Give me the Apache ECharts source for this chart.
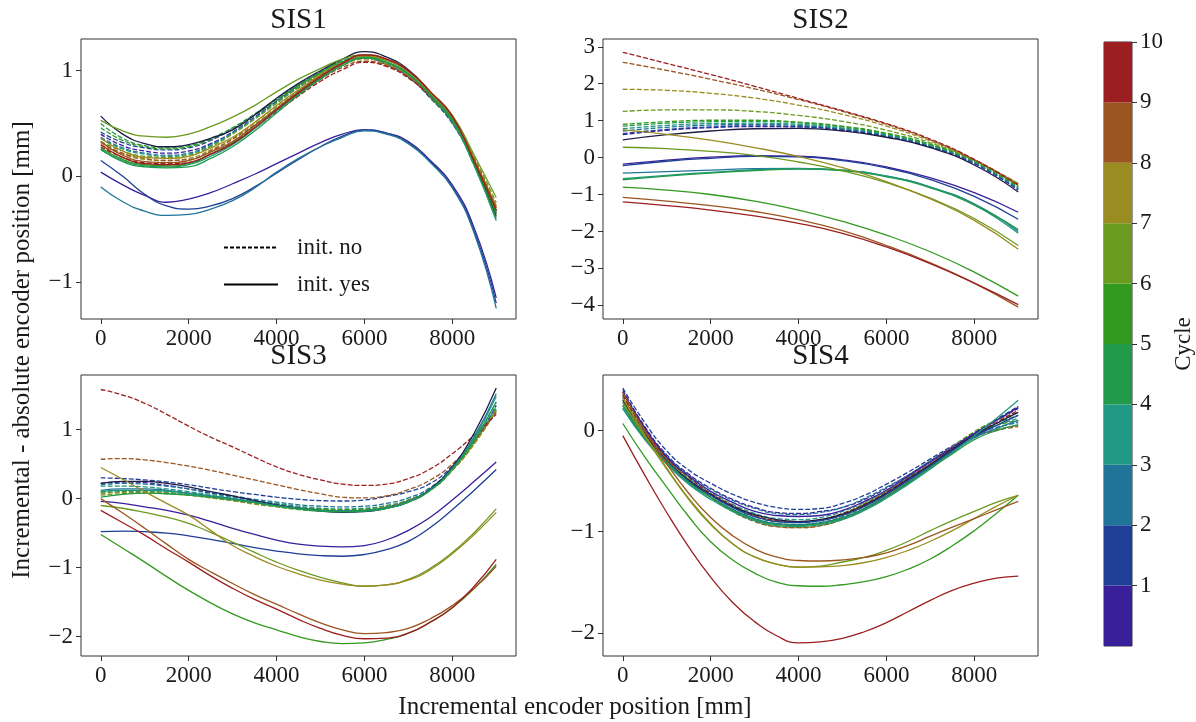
<!DOCTYPE html>
<html>
<head>
<meta charset="utf-8">
<script src="https://cdn.jsdelivr.net/npm/echarts@6/dist/echarts.min.js"></script>
<style>html,body{margin:0;padding:0;background:#fff}#c{width:1196px;height:722px}</style>
</head>
<body>
<div id="c"></div>
<script>
// ---------- DATA ----------
const X_POS_FINE = [0, 500, 1000, 1500, 2000, 2500, 3000, 3500, 4000, 4500, 5000, 5500, 6000, 6500, 7000, 7500, 8000, 8500, 9000];
const X_POS_COARSE = [0, 1000, 2000, 3000, 4000, 5000, 6000, 7000, 8000, 9000];
const X_TICKS = [0, 2000, 4000, 6000, 8000];
const CYCLES = [1, 2, 3, 4, 5, 6, 7, 8, 9, 10];
const PANEL_TITLES = ['SIS1', 'SIS2', 'SIS3', 'SIS4'];
const Y_TICKS = [[-1, 0, 1], [-4, -3, -2, -1, 0, 1, 2, 3], [-2, -1, 0, 1], [-2, -1, 0]];
const LEGEND_LABELS = ['init. no', 'init. yes'];

// dashed = init. no ; solid = init. yes ; rows = cycles 1..10
const SIS1_NO = [
  [0.40, 0.29, 0.24, 0.22, 0.24, 0.31, 0.42, 0.56, 0.71, 0.86, 0.99, 1.09, 1.14, 1.08, 0.96, 0.76, 0.52, 0.14, -0.30],
  [0.42, 0.32, 0.27, 0.25, 0.27, 0.34, 0.45, 0.58, 0.72, 0.86, 0.98, 1.08, 1.12, 1.06, 0.94, 0.74, 0.50, 0.12, -0.33],
  [0.37, 0.27, 0.22, 0.20, 0.22, 0.30, 0.41, 0.55, 0.70, 0.84, 0.97, 1.07, 1.12, 1.06, 0.95, 0.75, 0.51, 0.12, -0.35],
  [0.36, 0.26, 0.21, 0.19, 0.21, 0.29, 0.41, 0.55, 0.70, 0.85, 0.98, 1.09, 1.14, 1.08, 0.97, 0.77, 0.53, 0.14, -0.32],
  [0.50, 0.36, 0.29, 0.27, 0.29, 0.36, 0.46, 0.59, 0.73, 0.87, 0.99, 1.09, 1.14, 1.08, 0.96, 0.75, 0.51, 0.10, -0.38],
  [0.46, 0.34, 0.28, 0.26, 0.28, 0.35, 0.45, 0.58, 0.72, 0.86, 0.98, 1.08, 1.13, 1.07, 0.96, 0.75, 0.52, 0.11, -0.36],
  [0.33, 0.24, 0.19, 0.18, 0.20, 0.28, 0.40, 0.54, 0.69, 0.84, 0.97, 1.08, 1.13, 1.08, 0.97, 0.78, 0.55, 0.18, -0.25],
  [0.30, 0.21, 0.16, 0.15, 0.17, 0.25, 0.36, 0.51, 0.66, 0.81, 0.94, 1.05, 1.11, 1.06, 0.95, 0.76, 0.54, 0.16, -0.28],
  [0.32, 0.22, 0.17, 0.15, 0.16, 0.24, 0.35, 0.49, 0.64, 0.79, 0.92, 1.03, 1.09, 1.05, 0.94, 0.76, 0.54, 0.16, -0.30],
  [0.28, 0.18, 0.13, 0.12, 0.13, 0.21, 0.32, 0.46, 0.61, 0.76, 0.90, 1.01, 1.08, 1.04, 0.93, 0.76, 0.55, 0.15, -0.33]
];
const SIS1_YES = [
  [0.04, -0.08, -0.18, -0.245, -0.215, -0.155, -0.07, 0.02, 0.12, 0.22, 0.32, 0.40, 0.44, 0.41, 0.33, 0.15, -0.08, -0.49, -1.15],
  [0.15, 0.00, -0.17, -0.28, -0.31, -0.28, -0.21, -0.10, 0.03, 0.16, 0.28, 0.38, 0.44, 0.41, 0.32, 0.14, -0.10, -0.52, -1.20],
  [-0.10, -0.24, -0.33, -0.37, -0.36, -0.31, -0.23, -0.11, 0.04, 0.17, 0.28, 0.37, 0.43, 0.40, 0.31, 0.13, -0.11, -0.54, -1.25],
  [0.25, 0.15, 0.10, 0.09, 0.11, 0.19, 0.30, 0.45, 0.62, 0.78, 0.93, 1.05, 1.12, 1.08, 0.97, 0.77, 0.53, 0.10, -0.42],
  [0.26, 0.14, 0.09, 0.08, 0.09, 0.17, 0.28, 0.43, 0.60, 0.77, 0.92, 1.05, 1.12, 1.08, 0.97, 0.77, 0.54, 0.11, -0.40],
  [0.27, 0.16, 0.11, 0.10, 0.12, 0.21, 0.32, 0.48, 0.64, 0.80, 0.95, 1.07, 1.14, 1.10, 0.99, 0.79, 0.56, 0.14, -0.35],
  [0.53, 0.43, 0.38, 0.37, 0.40, 0.47, 0.56, 0.67, 0.80, 0.92, 1.02, 1.11, 1.15, 1.10, 0.99, 0.80, 0.58, 0.20, -0.20],
  [0.36, 0.24, 0.18, 0.17, 0.19, 0.27, 0.37, 0.51, 0.67, 0.82, 0.96, 1.07, 1.14, 1.10, 0.99, 0.79, 0.56, 0.15, -0.28],
  [0.33, 0.20, 0.14, 0.13, 0.15, 0.23, 0.33, 0.48, 0.64, 0.80, 0.95, 1.07, 1.15, 1.11, 1.00, 0.80, 0.57, 0.15, -0.30],
  [0.30, 0.18, 0.12, 0.11, 0.13, 0.21, 0.31, 0.46, 0.63, 0.79, 0.94, 1.07, 1.15, 1.11, 1.00, 0.80, 0.57, 0.14, -0.32]
];
const SIS1_YES_DARK = [0.57, 0.40, 0.31, 0.28, 0.30, 0.36, 0.44, 0.58, 0.74, 0.88, 1.00, 1.11, 1.18, 1.13, 1.01, 0.80, 0.55, 0.12, -0.38];

const SIS2_NO = [
  [0.62, 0.74, 0.81, 0.84, 0.83, 0.74, 0.57, 0.29, -0.16, -0.88],
  [0.65, 0.76, 0.83, 0.86, 0.84, 0.76, 0.58, 0.30, -0.15, -0.86],
  [0.72, 0.82, 0.88, 0.90, 0.87, 0.78, 0.60, 0.32, -0.13, -0.84],
  [0.78, 0.87, 0.92, 0.93, 0.90, 0.80, 0.62, 0.33, -0.12, -0.82],
  [0.85, 0.93, 0.97, 0.98, 0.94, 0.83, 0.64, 0.35, -0.10, -0.80],
  [0.90, 0.97, 1.01, 1.01, 0.96, 0.85, 0.66, 0.36, -0.08, -0.78],
  [1.25, 1.29, 1.29, 1.25, 1.14, 0.98, 0.74, 0.40, -0.08, -0.75],
  [1.85, 1.82, 1.74, 1.61, 1.42, 1.17, 0.85, 0.45, -0.06, -0.70],
  [2.58, 2.36, 2.12, 1.86, 1.57, 1.25, 0.90, 0.48, -0.06, -0.72],
  [2.85, 2.55, 2.25, 1.93, 1.60, 1.27, 0.92, 0.50, -0.05, -0.75]
];
const SIS2_YES = [
  [-0.18, -0.07, 0.01, 0.05, 0.04, -0.06, -0.25, -0.55, -0.95, -1.48],
  [-0.22, -0.10, -0.02, 0.03, 0.02, -0.08, -0.28, -0.60, -1.05, -1.67],
  [-0.42, -0.38, -0.34, -0.30, -0.29, -0.34, -0.50, -0.80, -1.25, -2.00],
  [-0.57, -0.48, -0.40, -0.33, -0.30, -0.34, -0.50, -0.80, -1.28, -2.05],
  [-0.60, -0.50, -0.42, -0.35, -0.31, -0.35, -0.52, -0.82, -1.28, -1.95],
  [-0.80, -0.88, -1.00, -1.18, -1.42, -1.73, -2.10, -2.55, -3.10, -3.75],
  [0.28, 0.24, 0.17, 0.06, -0.12, -0.36, -0.68, -1.10, -1.65, -2.38],
  [0.75, 0.63, 0.47, 0.27, 0.03, -0.27, -0.65, -1.12, -1.70, -2.48],
  [-1.08, -1.18, -1.30, -1.46, -1.68, -1.98, -2.38, -2.85, -3.40, -4.05],
  [-1.20, -1.30, -1.42, -1.58, -1.78, -2.05, -2.42, -2.87, -3.40, -3.98]
];
const SIS2_YES_DARK = [0.48, 0.62, 0.72, 0.78, 0.79, 0.72, 0.55, 0.27, -0.20, -0.93];

const SIS3_NO = [
  [0.22, 0.24, 0.23, 0.19, 0.14, 0.08, 0.03, -0.03, -0.08, -0.13, -0.16, -0.18, -0.17, -0.12, -0.03, 0.13, 0.42, 0.82, 1.35],
  [0.30, 0.29, 0.27, 0.24, 0.20, 0.15, 0.10, 0.06, 0.02, -0.01, -0.03, -0.035, -0.02, 0.03, 0.10, 0.22, 0.47, 0.84, 1.30],
  [0.20, 0.22, 0.21, 0.18, 0.14, 0.09, 0.04, -0.01, -0.05, -0.09, -0.11, -0.12, -0.11, -0.07, 0.01, 0.16, 0.45, 0.86, 1.40],
  [0.18, 0.18, 0.17, 0.14, 0.10, 0.06, 0.02, -0.03, -0.07, -0.11, -0.14, -0.15, -0.14, -0.10, -0.02, 0.14, 0.43, 0.83, 1.33],
  [0.08, 0.10, 0.10, 0.09, 0.06, 0.02, -0.02, -0.06, -0.10, -0.14, -0.16, -0.17, -0.16, -0.12, -0.03, 0.13, 0.42, 0.81, 1.30],
  [0.10, 0.12, 0.12, 0.11, 0.08, 0.04, 0.00, -0.05, -0.09, -0.13, -0.15, -0.16, -0.15, -0.11, -0.02, 0.13, 0.41, 0.80, 1.28],
  [0.05, 0.07, 0.08, 0.07, 0.05, 0.01, -0.03, -0.08, -0.12, -0.16, -0.18, -0.19, -0.18, -0.13, -0.04, 0.12, 0.41, 0.80, 1.30],
  [0.07, 0.09, 0.09, 0.08, 0.05, 0.01, -0.03, -0.07, -0.11, -0.15, -0.17, -0.18, -0.17, -0.12, -0.03, 0.12, 0.41, 0.79, 1.27],
  [0.57, 0.58, 0.56, 0.52, 0.47, 0.41, 0.34, 0.27, 0.20, 0.13, 0.07, 0.02, 0.01, 0.04, 0.13, 0.27, 0.50, 0.84, 1.25],
  [1.58, 1.50, 1.38, 1.22, 1.05, 0.89, 0.75, 0.60, 0.46, 0.35, 0.27, 0.21, 0.19, 0.21, 0.29, 0.43, 0.65, 0.92, 1.22]
];
const SIS3_YES = [
  [-0.04, -0.07, -0.12, -0.17, -0.24, -0.33, -0.43, -0.52, -0.60, -0.66, -0.69, -0.70, -0.68, -0.60, -0.46, -0.27, -0.02, 0.25, 0.53],
  [-0.48, -0.47, -0.48, -0.50, -0.54, -0.59, -0.65, -0.71, -0.76, -0.80, -0.825, -0.835, -0.81, -0.74, -0.62, -0.42, -0.16, 0.12, 0.42],
  [0.12, 0.14, 0.14, 0.12, 0.08, 0.04, 0.00, -0.05, -0.10, -0.14, -0.17, -0.18, -0.17, -0.13, -0.04, 0.13, 0.44, 0.90, 1.52],
  [0.10, 0.12, 0.12, 0.11, 0.07, 0.03, -0.01, -0.06, -0.11, -0.15, -0.18, -0.19, -0.18, -0.14, -0.05, 0.12, 0.43, 0.88, 1.48],
  [0.02, 0.06, 0.08, 0.07, 0.05, 0.02, -0.02, -0.06, -0.11, -0.15, -0.18, -0.19, -0.18, -0.14, -0.05, 0.12, 0.42, 0.85, 1.40],
  [-0.52, -0.72, -0.92, -1.13, -1.33, -1.51, -1.67, -1.80, -1.90, -2.00, -2.07, -2.10, -2.09, -2.04, -1.95, -1.79, -1.58, -1.30, -0.95],
  [-0.10, -0.14, -0.20, -0.27, -0.36, -0.49, -0.63, -0.78, -0.92, -1.04, -1.14, -1.22, -1.27, -1.25, -1.17, -1.01, -0.78, -0.49, -0.15],
  [0.45, 0.28, 0.10, -0.07, -0.24, -0.46, -0.68, -0.84, -0.98, -1.09, -1.18, -1.24, -1.27, -1.25, -1.18, -1.03, -0.80, -0.52, -0.20],
  [0.00, -0.21, -0.43, -0.66, -0.88, -1.06, -1.23, -1.39, -1.53, -1.67, -1.80, -1.90, -1.955, -1.94, -1.88, -1.74, -1.55, -1.30, -0.98],
  [-0.17, -0.35, -0.53, -0.73, -0.92, -1.12, -1.30, -1.46, -1.60, -1.75, -1.88, -1.98, -2.03, -2.02, -1.95, -1.79, -1.58, -1.27, -0.88]
];
const SIS3_YES_DARK = [0.22, 0.25, 0.25, 0.22, 0.17, 0.10, 0.04, -0.03, -0.09, -0.14, -0.18, -0.20, -0.19, -0.14, -0.05, 0.14, 0.46, 0.95, 1.60];

const SIS4_NO = [
  [0.40, 0.04, -0.24, -0.43, -0.57, -0.68, -0.76, -0.81, -0.82, -0.80, -0.76, -0.68, -0.57, -0.44, -0.30, -0.16, -0.03, 0.10, 0.22],
  [0.42, 0.08, -0.20, -0.39, -0.52, -0.63, -0.71, -0.76, -0.78, -0.77, -0.72, -0.64, -0.53, -0.41, -0.28, -0.15, -0.02, 0.11, 0.24],
  [0.35, 0.02, -0.25, -0.44, -0.58, -0.69, -0.77, -0.82, -0.83, -0.81, -0.76, -0.67, -0.56, -0.44, -0.30, -0.17, -0.04, 0.03, 0.08],
  [0.32, -0.02, -0.27, -0.47, -0.61, -0.73, -0.82, -0.87, -0.88, -0.86, -0.80, -0.71, -0.60, -0.47, -0.33, -0.19, -0.05, 0.05, 0.12],
  [0.30, -0.03, -0.29, -0.49, -0.64, -0.76, -0.85, -0.90, -0.91, -0.89, -0.83, -0.73, -0.62, -0.48, -0.33, -0.18, -0.04, 0.07, 0.15],
  [0.28, -0.05, -0.30, -0.50, -0.66, -0.78, -0.87, -0.92, -0.93, -0.91, -0.85, -0.75, -0.63, -0.49, -0.34, -0.19, -0.04, 0.05, 0.10],
  [0.33, -0.01, -0.28, -0.48, -0.63, -0.75, -0.84, -0.89, -0.90, -0.88, -0.82, -0.72, -0.60, -0.46, -0.31, -0.16, -0.01, 0.10, 0.18],
  [0.36, 0.00, -0.28, -0.50, -0.66, -0.79, -0.89, -0.95, -0.96, -0.94, -0.87, -0.77, -0.64, -0.50, -0.35, -0.20, -0.06, 0.01, 0.05],
  [0.38, 0.01, -0.27, -0.49, -0.66, -0.80, -0.90, -0.95, -0.96, -0.94, -0.88, -0.78, -0.65, -0.51, -0.36, -0.21, -0.07, 0.00, 0.04],
  [0.35, 0.00, -0.27, -0.46, -0.62, -0.74, -0.84, -0.89, -0.90, -0.88, -0.82, -0.73, -0.61, -0.47, -0.33, -0.18, -0.04, 0.08, 0.20]
];
const SIS4_YES = [
  [0.38, 0.03, -0.26, -0.45, -0.60, -0.71, -0.80, -0.84, -0.85, -0.84, -0.79, -0.70, -0.59, -0.45, -0.31, -0.17, -0.03, 0.10, 0.23],
  [0.25, -0.06, -0.30, -0.50, -0.64, -0.76, -0.85, -0.90, -0.91, -0.89, -0.84, -0.75, -0.63, -0.49, -0.35, -0.20, -0.06, 0.05, 0.15],
  [0.22, -0.08, -0.32, -0.52, -0.66, -0.78, -0.87, -0.92, -0.93, -0.91, -0.86, -0.77, -0.65, -0.51, -0.36, -0.21, -0.07, 0.02, 0.10],
  [0.22, -0.09, -0.33, -0.53, -0.68, -0.80, -0.89, -0.94, -0.95, -0.93, -0.88, -0.79, -0.67, -0.53, -0.38, -0.22, -0.05, 0.12, 0.30],
  [0.25, -0.07, -0.31, -0.51, -0.66, -0.79, -0.88, -0.93, -0.94, -0.92, -0.87, -0.78, -0.66, -0.52, -0.37, -0.23, -0.09, 0.00, 0.06],
  [0.07, -0.26, -0.56, -0.85, -1.10, -1.28, -1.41, -1.50, -1.535, -1.54, -1.525, -1.495, -1.445, -1.37, -1.27, -1.14, -0.99, -0.82, -0.64],
  [0.28, -0.06, -0.38, -0.68, -0.93, -1.12, -1.25, -1.32, -1.35, -1.34, -1.30, -1.255, -1.185, -1.095, -0.99, -0.89, -0.80, -0.71, -0.64],
  [0.32, -0.04, -0.37, -0.67, -0.92, -1.12, -1.25, -1.32, -1.352, -1.348, -1.335, -1.305, -1.255, -1.185, -1.095, -0.99, -0.87, -0.75, -0.64],
  [0.38, 0.00, -0.33, -0.62, -0.86, -1.04, -1.17, -1.25, -1.285, -1.29, -1.28, -1.255, -1.21, -1.135, -1.045, -0.955, -0.87, -0.785, -0.70],
  [-0.05, -0.44, -0.81, -1.15, -1.45, -1.70, -1.89, -2.03, -2.10, -2.09, -2.055, -1.99, -1.90, -1.79, -1.68, -1.58, -1.51, -1.46, -1.44]
];
const SIS4_YES_DARK = [0.30, -0.03, -0.30, -0.49, -0.63, -0.75, -0.83, -0.88, -0.90, -0.88, -0.83, -0.74, -0.62, -0.48, -0.34, -0.19, -0.05, 0.07, 0.18];

// ---------- STYLE ----------
const CYCLE_COLORS = ['#3a1f9a', '#1f3f96', '#1f7598', '#219984', '#219a49', '#319a1f', '#6a9a1f', '#9a8c21', '#9a5520', '#9b1f20'];
const DARK_COLOR = '#1c1c46';
const FONT = "'Liberation Serif', 'DejaVu Serif', serif";
const TXT = '#1a1a1a';
const FRAME = '#333';

const GRIDS = [
  { left: 81, top: 39, width: 435, height: 280 },
  { left: 603, top: 39, width: 435, height: 280 },
  { left: 81, top: 375, width: 435, height: 281 },
  { left: 603, top: 375, width: 435, height: 281 }
];
const Y_RANGES = [[-1.35, 1.30], [-4.37, 3.21], [-2.28, 1.79], [-2.23, 0.55]];

const PANELS = [
  { x: X_POS_FINE, no: SIS1_NO, yes: SIS1_YES, dark: SIS1_YES_DARK },
  { x: X_POS_COARSE, no: SIS2_NO, yes: SIS2_YES, dark: SIS2_YES_DARK },
  { x: X_POS_FINE, no: SIS3_NO, yes: SIS3_YES, dark: SIS3_YES_DARK },
  { x: X_POS_FINE, no: SIS4_NO, yes: SIS4_YES, dark: SIS4_YES_DARK }
];

const fmt = v => String(v).replace('-', '\u2212');

const grid = GRIDS.map(g => Object.assign({ show: true, borderColor: FRAME, borderWidth: 1, backgroundColor: 'transparent' }, g));
grid.push({ left: 1104, top: 42, width: 33, height: 604, show: true, borderColor: FRAME, borderWidth: 1 });

const xAxis = GRIDS.map((g, i) => ({
  type: 'value', gridIndex: i, min: -450, max: 9450,
  axisLine: { show: false, onZero: false },
  splitLine: { show: false },
  axisTick: { show: true, length: 5, lineStyle: { color: FRAME }, customValues: X_TICKS },
  axisLabel: { fontSize: 23, fontFamily: FONT, color: TXT, margin: 8, customValues: X_TICKS, formatter: v => String(v) }
}));
xAxis.push({ type: 'category', gridIndex: 4, data: ['cb'], show: false });

const yAxis = GRIDS.map((g, i) => ({
  type: 'value', gridIndex: i, min: Y_RANGES[i][0], max: Y_RANGES[i][1],
  axisLine: { show: false, onZero: false },
  splitLine: { show: false },
  axisTick: { show: true, length: 5, lineStyle: { color: FRAME }, customValues: Y_TICKS[i] },
  axisLabel: { fontSize: 23, fontFamily: FONT, color: TXT, margin: 8, customValues: Y_TICKS[i], formatter: fmt }
}));
yAxis.push({
  type: 'value', gridIndex: 4, min: 0, max: 10, position: 'right',
  axisLine: { show: false, onZero: false }, splitLine: { show: false },
  axisTick: { show: true, length: 5, lineStyle: { color: FRAME }, customValues: CYCLES },
  axisLabel: { fontSize: 23, fontFamily: FONT, color: TXT, margin: 8, customValues: CYCLES },
  name: 'Cycle', nameLocation: 'middle', nameRotate: 90, nameGap: 40,
  nameTextStyle: { fontSize: 23, fontFamily: FONT, color: TXT }
});

const series = [];
function addLine(idx, xs, vals, color, dashed) {
  series.push({
    type: 'line', xAxisIndex: idx, yAxisIndex: idx, silent: true,
    data: xs.map((x, j) => [x, vals[j]]),
    symbol: 'none', smooth: 0.5,
    lineStyle: { color: color, width: 1.3, type: dashed ? [5, 2] : 'solid' },
    z: dashed ? 2 : 3
  });
}
PANELS.forEach((p, idx) => {
  p.no.forEach((vals, c) => addLine(idx, p.x, vals, CYCLE_COLORS[c], true));
  addLine(idx, p.x, p.dark, DARK_COLOR, false);
  p.yes.forEach((vals, c) => addLine(idx, p.x, vals, CYCLE_COLORS[c], false));
});
// legend-only series
series.push({ name: LEGEND_LABELS[0], type: 'line', xAxisIndex: 0, yAxisIndex: 0, data: [], symbol: 'none', itemStyle: { color: '#000', opacity: 0 }, lineStyle: { color: '#000', width: 1.3, type: [4, 2] } });
series.push({ name: LEGEND_LABELS[1], type: 'line', xAxisIndex: 0, yAxisIndex: 0, data: [], symbol: 'none', itemStyle: { color: '#000', opacity: 0 }, lineStyle: { color: '#000', width: 1.3, type: 'solid' } });
// colorbar
CYCLES.forEach((c, i) => {
  series.push({ type: 'bar', xAxisIndex: 4, yAxisIndex: 4, stack: 'cb', data: [1], barWidth: '100%', silent: true, itemStyle: { color: CYCLE_COLORS[i] } });
});

const graphic = [];
GRIDS.forEach((g, i) => {
  graphic.push({ type: 'text', x: g.left + g.width / 2, y: g.top - 4, style: { text: PANEL_TITLES[i], font: '29px ' + FONT, fill: TXT, textAlign: 'center', textVerticalAlign: 'bottom' } });
});
graphic.push({ type: 'text', x: 575, y: 707, style: { text: 'Incremental encoder position [mm]', font: '25px ' + FONT, fill: TXT, textAlign: 'center', textVerticalAlign: 'middle' } });
graphic.push({ type: 'text', x: 22, y: 350, rotation: Math.PI / 2, style: { text: 'Incremental - absolute encoder position [mm]', font: '25px ' + FONT, fill: TXT, textAlign: 'center', textVerticalAlign: 'middle' } });

const chart = echarts.init(document.getElementById('c'), null, { renderer: 'canvas' });
chart.setOption({
  animation: false,
  backgroundColor: '#fff',
  grid, xAxis, yAxis, series, graphic,
  legend: {
    data: LEGEND_LABELS, orient: 'vertical', left: 218, top: 231,
    itemWidth: 54, itemHeight: 24, itemGap: 14,
    itemStyle: { opacity: 0 },
    textStyle: { fontSize: 23, fontFamily: FONT, color: TXT, padding: [0, 0, 0, 14] }
  }
});
</script>
</body>
</html>
